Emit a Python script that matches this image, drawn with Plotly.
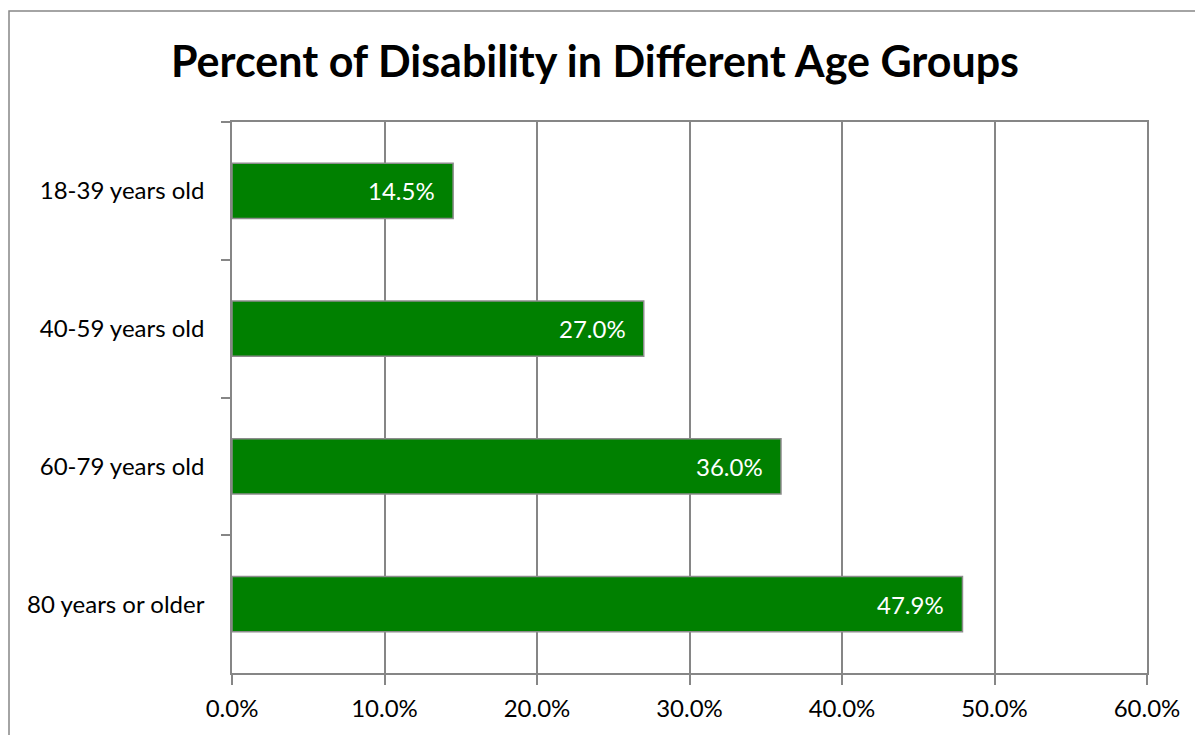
import plotly.graph_objects as go

categories = ["18-39 years old", "40-59 years old", "60-79 years old", "80 years or older"]
values = [0.145, 0.270, 0.360, 0.479]
labels = ["14.5%", "27.0%", "36.0%", "47.9%"]
x_ticks = [0.0, 0.1, 0.2, 0.3, 0.4, 0.5, 0.6]
x_tick_labels = ["0.0%", "10.0%", "20.0%", "30.0%", "40.0%", "50.0%", "60.0%"]

FONT = "Lato"
GRID = "#868686"

fig = go.Figure()
fig.add_trace(go.Bar(
    y=categories, x=values, orientation="h",
    width=0.4,
    marker=dict(color="#008000", line=dict(color="#8c8c8c", width=1.5)),
    hoverinfo="skip",
))

for c, v, t in zip(categories, values, labels):
    fig.add_annotation(x=v, y=c, text=t, showarrow=False, xanchor="right",
                       xshift=-16, font=dict(family=FONT, size=24, color="white"))

# outer chart border (figure starts 8px in from the page edge)
fig.add_shape(type="rect", xref="paper", yref="paper",
              x0=(9 - 232) / 915, x1=1.3, y0=-0.3, y1=(673 - 11) / 551,
              line=dict(color="#878787", width=1.5), layer="below")

fig.update_layout(
    width=1195, height=727,
    margin=dict(l=224, r=56, t=114, b=62),
    paper_bgcolor="white", plot_bgcolor="white",
    showlegend=False,
    title=dict(text="<b>Percent of Disability in Different Age Groups</b>",
               x=(595 - 8) / 1195, xanchor="center", y=1 - 54 / 727, yanchor="middle",
               font=dict(family=FONT, size=43, color="black")),
    font=dict(family=FONT, size=24, color="black"),
    bargap=0.6,
)
fig.update_xaxes(
    range=[0, 0.6], tickvals=x_ticks, ticktext=x_tick_labels,
    showgrid=True, gridcolor=GRID, gridwidth=1.5,
    showline=True, linecolor=GRID, linewidth=1.5, mirror=True,
    ticks="outside", ticklen=10, tickcolor=GRID, tickwidth=1.5,
    ticklabelstandoff=3, zeroline=False, automargin=False,
    tickfont=dict(family=FONT, size=24, color="black"),
)
fig.update_yaxes(
    categoryorder="array", categoryarray=categories, autorange="reversed",
    showgrid=False, automargin=False,
    showline=True, linecolor=GRID, linewidth=1.5, mirror=True,
    ticks="outside", tickson="boundaries", ticklen=9, tickcolor=GRID, tickwidth=1.5,
    ticklabelstandoff=21,
    tickfont=dict(family=FONT, size=24, color="black"),
)

fig.write_html("out.html")
